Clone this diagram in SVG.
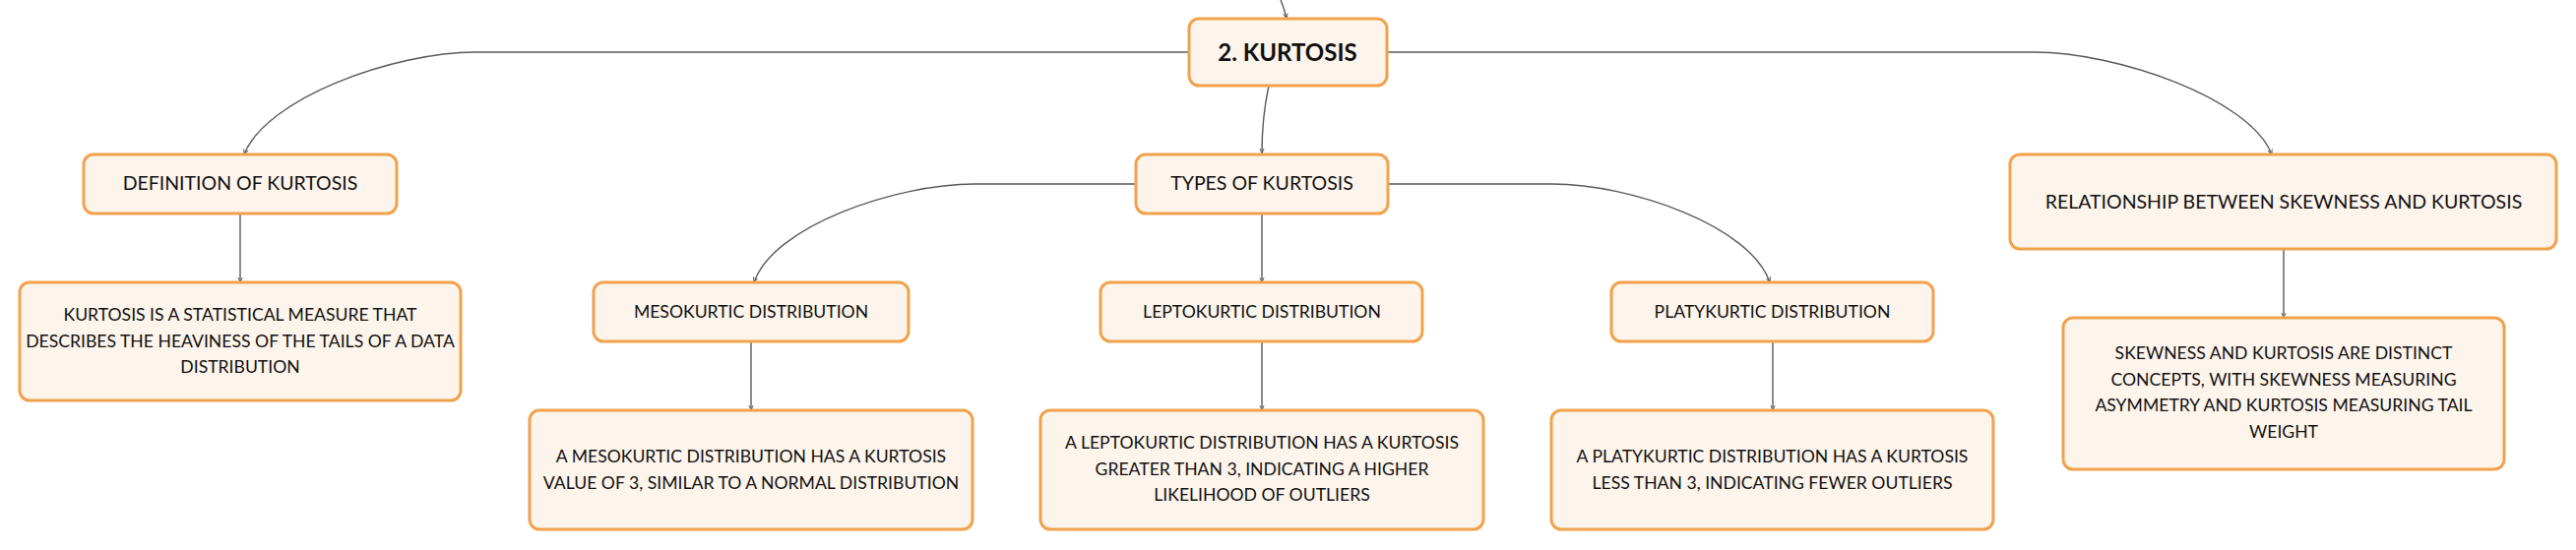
<svg xmlns="http://www.w3.org/2000/svg" width="2617" height="559" viewBox="0 0 2617 559">
<defs>
<marker id="arr" viewBox="0 0 8 8" refX="7" refY="4" markerWidth="6" markerHeight="6" markerUnits="userSpaceOnUse" orient="auto">
<path d="M0,1 L7,4 L0,7" fill="none" stroke="#555" stroke-width="1.2"/>
</marker>
</defs>
<style>
.box{fill:#fdf4eb;stroke:#f1a24c;stroke-width:3}
.h1{font-family:Lato,"Liberation Sans",sans-serif;font-size:19.5px;fill:#111;text-anchor:middle}
.t{font-family:Lato,"Liberation Sans",sans-serif;font-size:17.6px;fill:#111;text-anchor:middle}
.root{font-family:Lato,"Liberation Sans",sans-serif;font-size:24px;font-weight:bold;fill:#111;text-anchor:middle}
.c{fill:none;stroke:#5a5a5a;stroke-width:1.4;marker-end:url(#arr)}
</style>
<rect width="2617" height="559" fill="#ffffff"/>
<g id="connectors">
<path class="c" d="M1301,0 Q1305,9 1307,19"/>
<path class="c" d="M1208,53 L483,53 C400,53 270,100 248,157"/>
<path class="c" d="M1409,53 L2067,53 C2150,53 2286,100 2308,157"/>
<path class="c" d="M1289,87 C1284,110 1282,130 1282,156"/>
<path class="c" d="M244,217 L244,287"/>
<path class="c" d="M1154,187 L990,187 C910,187 785,230 766,287"/>
<path class="c" d="M1410,187 L1577,187 C1657,187 1779,230 1798,287"/>
<path class="c" d="M1282,217 L1282,287"/>
<path class="c" d="M763,347 L763,417"/>
<path class="c" d="M1282,347 L1282,417"/>
<path class="c" d="M1801,347 L1801,417"/>
<path class="c" d="M2320,253 L2320,323"/>
</g>
<g id="root">
<rect class="box" x="1208" y="19" width="201" height="68" rx="10"/>
<text class="root" x="1308" y="62">2. KURTOSIS</text>
</g>
<g id="definition">
<rect class="box" x="85" y="157" width="318" height="60" rx="10"/>
<text class="h1" x="244" y="193">DEFINITION OF KURTOSIS</text>
</g>
<g id="definition-text">
<rect class="box" x="20" y="287" width="448" height="120" rx="10"/>
<text class="t" x="244" y="326">KURTOSIS IS A STATISTICAL MEASURE THAT</text>
<text class="t" x="244" y="353">DESCRIBES THE HEAVINESS OF THE TAILS OF A DATA</text>
<text class="t" x="244" y="379">DISTRIBUTION</text>
</g>
<g id="types">
<rect class="box" x="1154" y="157" width="256" height="60" rx="10"/>
<text class="h1" x="1282" y="193">TYPES OF KURTOSIS</text>
</g>
<g id="mesokurtic">
<rect class="box" x="603" y="287" width="320" height="60" rx="10"/>
<text class="t" x="763" y="323">MESOKURTIC DISTRIBUTION</text>
</g>
<g id="mesokurtic-text">
<rect class="box" x="538" y="417" width="450" height="121" rx="10"/>
<text class="t" x="763" y="470">A MESOKURTIC DISTRIBUTION HAS A KURTOSIS</text>
<text class="t" x="763" y="497">VALUE OF 3, SIMILAR TO A NORMAL DISTRIBUTION</text>
</g>
<g id="leptokurtic">
<rect class="box" x="1118" y="287" width="327" height="60" rx="10"/>
<text class="t" x="1282" y="323">LEPTOKURTIC DISTRIBUTION</text>
</g>
<g id="leptokurtic-text">
<rect class="box" x="1057" y="417" width="450" height="121" rx="10"/>
<text class="t" x="1282" y="456">A LEPTOKURTIC DISTRIBUTION HAS A KURTOSIS</text>
<text class="t" x="1282" y="483">GREATER THAN 3, INDICATING A HIGHER</text>
<text class="t" x="1282" y="509">LIKELIHOOD OF OUTLIERS</text>
</g>
<g id="platykurtic">
<rect class="box" x="1637" y="287" width="327" height="60" rx="10"/>
<text class="t" x="1800.5" y="323">PLATYKURTIC DISTRIBUTION</text>
</g>
<g id="platykurtic-text">
<rect class="box" x="1576" y="417" width="449" height="121" rx="10"/>
<text class="t" x="1800.5" y="470">A PLATYKURTIC DISTRIBUTION HAS A KURTOSIS</text>
<text class="t" x="1800.5" y="497">LESS THAN 3, INDICATING FEWER OUTLIERS</text>
</g>
<g id="relationship">
<rect class="box" x="2042" y="157" width="555" height="96" rx="10"/>
<text class="h1" x="2320" y="212">RELATIONSHIP BETWEEN SKEWNESS AND KURTOSIS</text>
</g>
<g id="relationship-text">
<rect class="box" x="2096" y="323" width="448" height="154" rx="10"/>
<text class="t" x="2320" y="365">SKEWNESS AND KURTOSIS ARE DISTINCT</text>
<text class="t" x="2320" y="392">CONCEPTS, WITH SKEWNESS MEASURING</text>
<text class="t" x="2320" y="418">ASYMMETRY AND KURTOSIS MEASURING TAIL</text>
<text class="t" x="2320" y="445">WEIGHT</text>
</g>
</svg>
